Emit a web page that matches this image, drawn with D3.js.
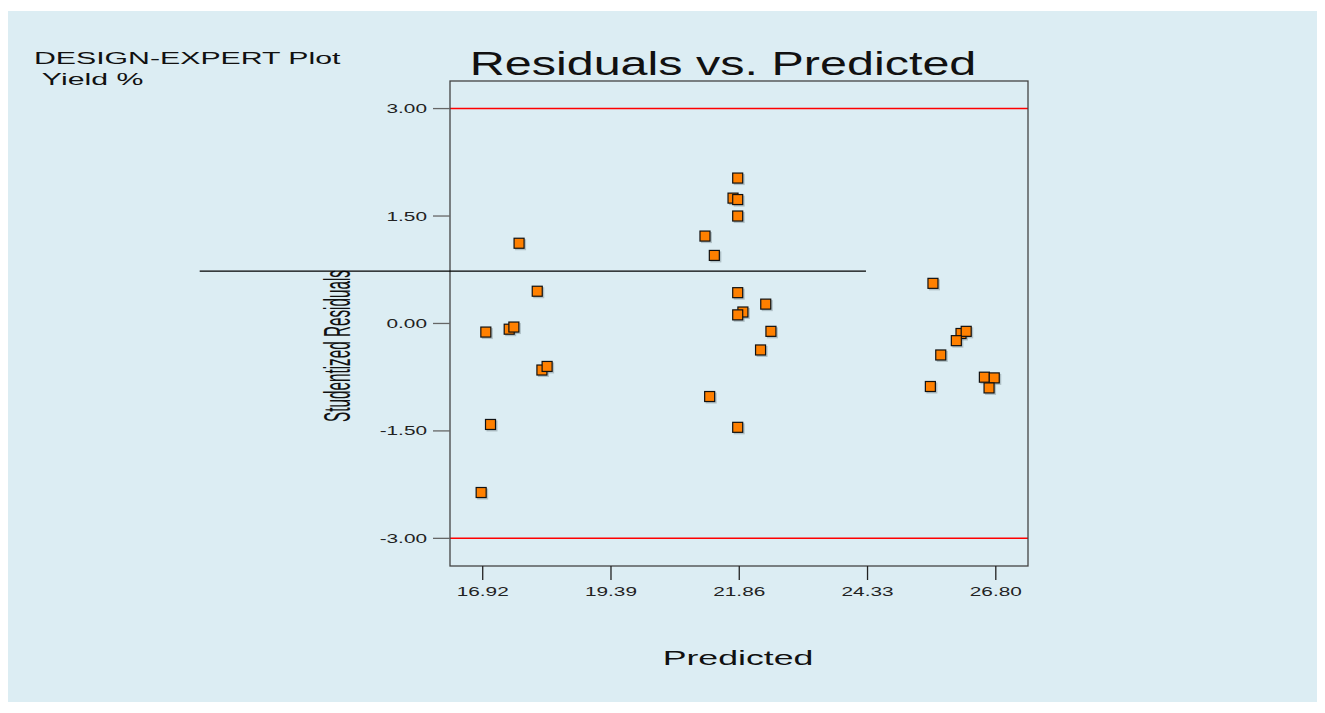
<!DOCTYPE html>
<html>
<head>
<meta charset="utf-8">
<script src="https://cdn.jsdelivr.net/npm/d3@7"></script>
<style>
  body { margin: 0; background: #fff; }
  text { font-family: "Liberation Sans", Arial, sans-serif; }
</style>
</head>
<body>
<script>
// predicted values (x) and studentized residuals (y)
const predicted = [
  17.62, 17.97, 16.98, 17.43, 17.52, 18.06, 18.16, 17.07, 16.89,
  21.83, 21.74, 21.83, 21.83, 21.20, 21.38, 21.83, 22.37, 21.93, 21.83, 22.47, 22.27, 21.29, 21.83,
  25.59, 26.13, 26.23, 26.04, 25.74, 25.54, 26.58, 26.77, 26.67
];
const residuals = [
  1.12, 0.45, -0.12, -0.08, -0.05, -0.65, -0.60, -1.41, -2.36,
  2.03, 1.75, 1.73, 1.50, 1.22, 0.95, 0.43, 0.27, 0.16, 0.12, -0.11, -0.37, -1.02, -1.45,
  0.56, -0.14, -0.11, -0.24, -0.44, -0.88, -0.75, -0.76, -0.90
];
const xTicks = [16.92, 19.39, 21.86, 24.33, 26.80];
const yTicks = [3.00, 1.50, 0.00, -1.50, -3.00];
const limits = [3.00, -3.00];
// stray horizontal line that crosses the plot in the original
const strayLine = { y: 0.73, x0: 11.47, x1: 24.30 };

const W = 1325, H = 713;
const SX = 1.6; // the original picture is stretched sideways

const svg = d3.select("body").append("svg")
    .attr("width", W)
    .attr("height", H);

svg.append("rect")
    .attr("x", 8).attr("y", 11)
    .attr("width", 1309).attr("height", 691)
    .attr("fill", "#dcedf3");

const box = { left: 450, right: 1028, top: 81, bottom: 566 };

const x = d3.scaleLinear().domain([16.29, 27.42]).range([box.left, box.right]);
const y = d3.scaleLinear().domain([-3.386, 3.385]).range([box.bottom, box.top]);

const fmt = d => d.toFixed(2); // plain hyphen for negatives, like the original

// top left caption
svg.append("text")
    .attr("transform", "translate(34,64) scale(1.78,1)")
    .attr("font-size", 17)
    .attr("fill", "#111")
    .text("DESIGN-EXPERT Plot");
svg.append("text")
    .attr("transform", "translate(34,85) scale(1.78,1)")
    .attr("font-size", 17)
    .attr("fill", "#111")
    .attr("xml:space", "preserve")
    .text(" Yield %");

// title
svg.append("text")
    .attr("transform", "translate(723,75) scale(1.47,1)")
    .attr("text-anchor", "middle")
    .attr("font-size", 33)
    .attr("fill", "#111")
    .text("Residuals vs. Predicted");

// red limit lines
svg.selectAll(".limit")
    .data(limits)
    .enter().append("line")
    .attr("class", "limit")
    .attr("x1", box.left).attr("x2", box.right)
    .attr("y1", d => y(d)).attr("y2", d => y(d))
    .attr("stroke", "#ff0000")
    .attr("stroke-width", 1.5);

// plot frame
svg.append("rect")
    .attr("x", box.left).attr("y", box.top)
    .attr("width", box.right - box.left).attr("height", box.bottom - box.top)
    .attr("fill", "none")
    .attr("stroke", "#444")
    .attr("stroke-width", 1.3);

// y ticks
svg.selectAll(".ytick")
    .data(yTicks)
    .enter().append("line")
    .attr("class", "ytick")
    .attr("x1", box.left - 17).attr("x2", box.left)
    .attr("y1", d => y(d)).attr("y2", d => y(d))
    .attr("stroke", "#666")
    .attr("stroke-width", 1.3);
svg.selectAll(".ylabel")
    .data(yTicks)
    .enter().append("text")
    .attr("class", "ylabel")
    .attr("transform", d => `translate(${box.left - 23},${y(d) + 4.5}) scale(${SX},1)`)
    .attr("text-anchor", "end")
    .attr("font-size", 13)
    .attr("fill", "#222")
    .text(fmt);

// x ticks
svg.selectAll(".xtick")
    .data(xTicks)
    .enter().append("line")
    .attr("class", "xtick")
    .attr("x1", d => x(d)).attr("x2", d => x(d))
    .attr("y1", box.bottom).attr("y2", box.bottom + 14)
    .attr("stroke", "#222")
    .attr("stroke-width", 1.3);
svg.selectAll(".xlabel")
    .data(xTicks)
    .enter().append("text")
    .attr("class", "xlabel")
    .attr("transform", d => `translate(${x(d)},596) scale(${SX},1)`)
    .attr("text-anchor", "middle")
    .attr("font-size", 13)
    .attr("fill", "#222")
    .text(fmt);

// axis titles
svg.append("text")
    .attr("transform", "translate(738,665) scale(1.7,1)")
    .attr("text-anchor", "middle")
    .attr("font-size", 21)
    .attr("fill", "#111")
    .text("Predicted");

svg.append("text")
    .attr("transform", "translate(350,346) rotate(-90)")
    .attr("text-anchor", "middle")
    .attr("font-size", 36)
    .attr("textLength", 152)
    .attr("lengthAdjust", "spacingAndGlyphs")
    .attr("fill", "#111")
    .text("Studentized Residuals");

// stray line
svg.append("line")
    .attr("x1", x(strayLine.x0)).attr("x2", x(strayLine.x1))
    .attr("y1", y(strayLine.y)).attr("y2", y(strayLine.y))
    .attr("stroke", "#000")
    .attr("stroke-width", 1.3);

// points
const pts = predicted.map((p, i) => ({ x: p, y: residuals[i] }));
const s = 10;

svg.append("g").selectAll("rect")
    .data(pts)
    .enter().append("rect")
    .attr("x", d => x(d.x) - s / 2 + 1)
    .attr("y", d => y(d.y) - s / 2 + 1)
    .attr("width", s + 1).attr("height", s + 1)
    .attr("fill", "#8a9aa0")
    .attr("opacity", 0.55);

svg.append("g").selectAll("rect")
    .data(pts)
    .enter().append("rect")
    .attr("x", d => x(d.x) - s / 2)
    .attr("y", d => y(d.y) - s / 2)
    .attr("width", s).attr("height", s)
    .attr("fill", "#ff8000")
    .attr("stroke", "#111")
    .attr("stroke-width", 1.2);
</script>
</body>
</html>
